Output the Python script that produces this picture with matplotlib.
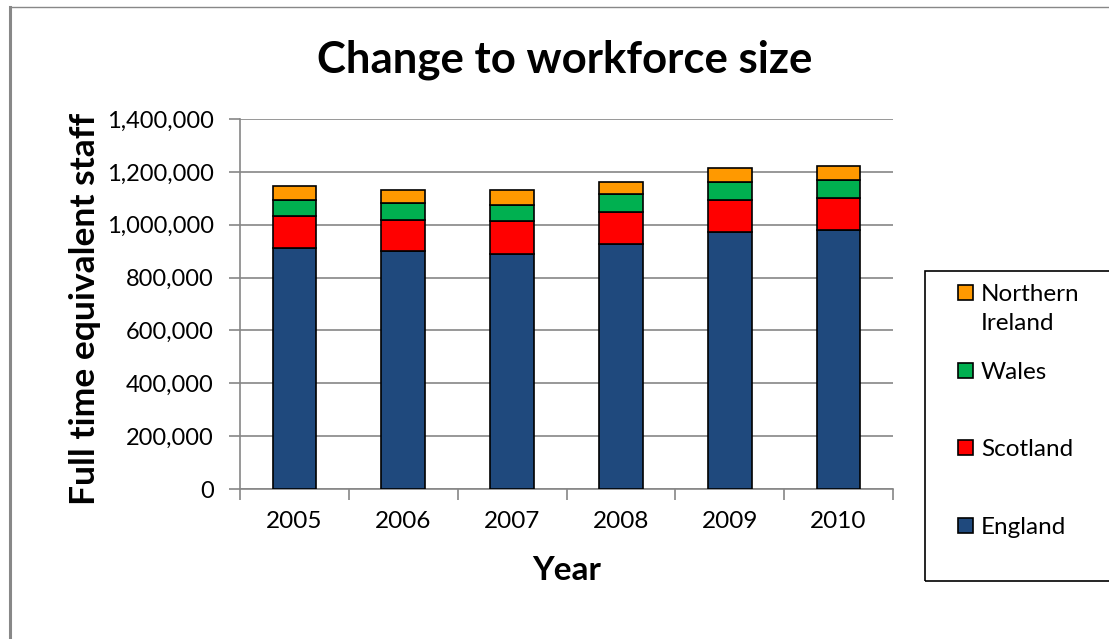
import matplotlib
matplotlib.use("Agg")
import matplotlib.pyplot as plt
import matplotlib.ticker as ticker
from matplotlib.patches import Rectangle
from matplotlib.lines import Line2D
import numpy as np

plt.rcParams['font.family'] = ['Lato', 'DejaVu Sans']

# Full time equivalent staff by country
years = ['2005', '2006', '2007', '2008', '2009', '2010']
england = [913000, 902000, 890000, 926000, 974000, 979000]
scotland = [119000, 115000, 123000, 121000, 120000, 121000]
wales = [62000, 64000, 63000, 68000, 68000, 68000]
northern_ireland = [53000, 49000, 54000, 48000, 54000, 54000]

series = [
    ('England', england, '#1F497D'),
    ('Scotland', scotland, '#FF0000'),
    ('Wales', wales, '#00B050'),
    ('Northern\nIreland', northern_ireland, '#FF9900'),
]

W, H = 1109, 639
fig = plt.figure(figsize=(W / 100, H / 100), dpi=100)
ax = fig.add_axes([240 / W, 1 - 489 / H, 653 / W, 370 / H])

x = np.arange(len(years))
bottom = np.zeros(len(years))
for name, vals, col in series:
    ax.bar(x, vals, width=0.4, bottom=bottom, color=col,
           edgecolor='black', linewidth=1.2, label=name, zorder=3)
    bottom += np.array(vals)

# axes styling
ax.set_xlim(-0.5, len(years) - 0.5)
ax.set_ylim(0, 1400000)
ax.yaxis.set_major_locator(ticker.MultipleLocator(200000))
ax.yaxis.set_major_formatter(ticker.FuncFormatter(lambda v, p: f'{int(v):,}'))
ax.grid(axis='y', color='#868686', linewidth=1.2, zorder=0)
for s in ['top', 'right']:
    ax.spines[s].set_visible(False)
for s in ['left', 'bottom']:
    ax.spines[s].set_color('#868686')
    ax.spines[s].set_linewidth(1.2)

ax.set_xticks(x)
ax.set_xticklabels(years)
ax.set_xticks(np.arange(-0.5, len(years)), minor=True)
ax.tick_params(axis='x', which='major', length=0, pad=16, labelsize=17.5)
ax.tick_params(axis='x', which='minor', length=8, color='#868686', width=1.2)
ax.tick_params(axis='y', length=8, color='#868686', width=1.2, pad=11, labelsize=17)

ax.set_ylabel('Full time equivalent staff', fontsize=25.5, fontweight='bold')
ax.yaxis.set_label_coords(-0.237, 0.486)
ax.set_xlabel('Year', fontsize=24, fontweight='bold')
ax.xaxis.set_label_coords(0.5, -0.219)
ax.xaxis.label.set_va('center')
ax.yaxis.label.set_va('center')

fig.text(565 / W, 1 - 60 / H, 'Change to workforce size',
         ha='center', va='center', fontsize=31.5, fontweight='bold')

# legend box with hand-placed entries (top to bottom)
fig.patches.append(Rectangle((925 / W, 1 - 581 / H), 300 / W, 310 / H,
                             transform=fig.transFigure, fill=False,
                             edgecolor='black', linewidth=1.2))
entry_y = {'Northern\nIreland': 293, 'Wales': 371, 'Scotland': 448, 'England': 526}
for name, vals, col in series:
    yy = entry_y[name]
    fig.patches.append(Rectangle((958 / W, 1 - (yy + 7) / H), 15 / W, 15 / H,
                                 transform=fig.transFigure, facecolor=col,
                                 edgecolor='black', linewidth=1.2))
    fig.text(981 / W, 1 - (yy - 9) / H, name, ha='left', va='top',
             fontsize=17.5, linespacing=1.45)

# outer chart frame
fig.add_artist(Line2D([10 / W, 10 / W], [0, 1 - 7 / H],
                      transform=fig.transFigure, color='#888888', linewidth=2.2))
fig.add_artist(Line2D([10 / W, 1], [1 - 7 / H, 1 - 7 / H],
                      transform=fig.transFigure, color='#888888', linewidth=1))

fig.savefig('out.png', dpi=100)
